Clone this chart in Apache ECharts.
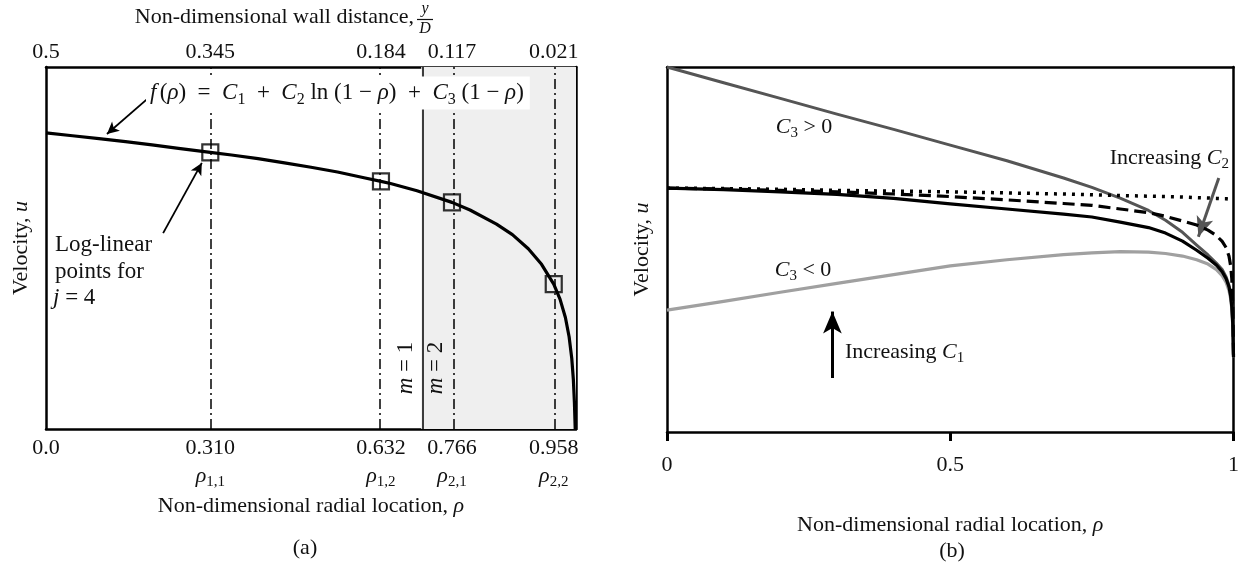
<!DOCTYPE html>
<html>
<head>
<meta charset="utf-8">
<script src="https://cdn.jsdelivr.net/npm/echarts@6/dist/echarts.min.js"></script>
<style>
  html, body { margin: 0; padding: 0; background: #fff; }
  #main { width: 1242px; height: 571px; }
</style>
</head>
<body>
<div id="main"></div>
<script>
var FONT = 'Liberation Serif';

// (a) fitted profile f(rho)
var rhoA = [0, 0.05, 0.1, 0.15, 0.2, 0.25, 0.31, 0.35, 0.4, 0.45, 0.5, 0.55, 0.6, 0.632, 0.65, 0.7, 0.766, 0.8, 0.85, 0.88, 0.91, 0.935, 0.958, 0.97, 0.98, 0.987, 0.992, 0.995, 0.997, 0.998, 0.9985];
var uA = [0.818, 0.810, 0.802, 0.794, 0.785, 0.775, 0.764, 0.757, 0.747, 0.735, 0.723, 0.710, 0.694, 0.684, 0.678, 0.658, 0.626, 0.605, 0.566, 0.537, 0.498, 0.455, 0.400, 0.358, 0.308, 0.255, 0.195, 0.137, 0.074, 0.025, 0.0];
// log-linear points (j = 4)
var rhoPts = [0.31, 0.632, 0.766, 0.958];
var uPts = [0.764, 0.684, 0.626, 0.400];
// tick labels
var bottomVals = [0, 0.31, 0.632, 0.766, 0.958];
var bottomLabels = ['0.0', '0.310', '0.632', '0.766', '0.958'];
var bottomSubs = ['', '1,1', '1,2', '2,1', '2,2'];
var topLabels = ['0.5', '0.345', '0.184', '0.117', '0.021'];
var splitRho = 0.708; // m = 1 | m = 2

// (b) family of curves
var rhoB = [0, 0.1, 0.2, 0.3, 0.4, 0.5, 0.6, 0.7, 0.75, 0.8, 0.85, 0.88, 0.91, 0.935, 0.955, 0.97, 0.98, 0.987, 0.992, 0.995, 0.997, 0.999, 1];
var uC3pos = [1.0, 0.957, 0.914, 0.871, 0.829, 0.786, 0.743, 0.696, 0.670, 0.641, 0.607, 0.580, 0.547, 0.512, 0.485, 0.462, 0.445, 0.425, 0.402, 0.377, 0.347, 0.290, 0.205];
var uBase = [0.668, 0.664, 0.658, 0.651, 0.640, 0.625, 0.611, 0.597, 0.589, 0.575, 0.560, 0.545, 0.523, 0.498, 0.476, 0.457, 0.439, 0.420, 0.398, 0.373, 0.343, 0.288, 0.205];
var uC2mid = [0.668, 0.666, 0.662, 0.658, 0.652, 0.645, 0.636, 0.626, 0.621, 0.611, 0.601, 0.591, 0.578, 0.567, 0.553, 0.538, 0.522, 0.505, 0.482, 0.455, 0.420, 0.330, 0.205];
var uC2high = [0.668, 0.667, 0.665, 0.662, 0.660, 0.658, 0.655, 0.652, 0.650, 0.648, 0.646, 0.645, 0.644, 0.642, 0.641, 0.640, 0.639, 0.639, 0.638, 0.637, 0.637, 0.636, 0.636];
var uC3neg = [0.334, 0.358, 0.383, 0.407, 0.431, 0.455, 0.472, 0.486, 0.491, 0.494, 0.493, 0.489, 0.482, 0.472, 0.460, 0.445, 0.428, 0.410, 0.388, 0.365, 0.338, 0.283, 0.205];
var bTicks = [0, 0.5, 1];
var bLabels = ['0', '0.5', '1'];

function zip(xs, ys) {
  return xs.map(function (x, i) { return [x, ys[i]]; });
}
function lookup(vals, labels, v) {
  for (var i = 0; i < vals.length; i++) {
    if (Math.abs(vals[i] - v) < 1e-6) return labels[i];
  }
  return '';
}

var chart = echarts.init(document.getElementById('main'), null, { renderer: 'canvas' });

var frame = { show: true, onZero: false, lineStyle: { color: '#000', width: 2.5 } };
function mkRich(size, key) {
  var c = key || 'color';
  var r = {
    i: { fontFamily: FONT, fontStyle: 'italic', fontSize: size },
    n: { fontFamily: FONT, fontSize: size },
    s: { fontFamily: FONT, fontSize: Math.round(size * 0.68), padding: [Math.round(size * 0.55), 0, 0, 0] }
  };
  r.i[c] = r.n[c] = r.s[c] = '#111';
  return r;
}
var rich = mkRich(22);
var grich = mkRich(22, 'fill');

var dashDot = { color: '#000', width: 1.5, type: [10, 4, 2, 4] };

var option = {
  animation: false,
  backgroundColor: '#fff',
  grid: [
    { left: 46, top: 67, width: 530, height: 362 },
    { left: 667, top: 67, right: 7, bottom: 139 }
  ],
  xAxis: [
    {
      gridIndex: 0, type: 'value', min: 0, max: 1, position: 'bottom',
      axisLine: frame, axisTick: { show: false }, splitLine: { show: false },
      axisLabel: {
        customValues: bottomVals, margin: 5, lineHeight: 28,
        formatter: function (v) {
          var s = lookup(bottomVals, bottomSubs, v);
          var main = '{n|' + lookup(bottomVals, bottomLabels, v) + '}';
          return s ? main + '\n{i|ρ}{s|' + s + '}' : main + '\n{n| }';
        },
        rich: rich
      },
      name: '{n|Non-dimensional radial location, }{i|ρ}',
      nameLocation: 'middle', nameGap: 66,
      nameTextStyle: { rich: rich }
    },
    {
      gridIndex: 0, type: 'value', min: 0, max: 1, position: 'top',
      axisLine: frame, axisTick: { show: false }, splitLine: { show: false },
      axisLabel: {
        customValues: bottomVals, margin: 4,
        formatter: function (v) { return lookup(bottomVals, topLabels, v); },
        fontFamily: FONT, fontSize: 22, color: '#111'
      }
    },
    {
      gridIndex: 1, type: 'value', min: 0, max: 1, position: 'bottom',
      axisLine: frame,
      axisTick: { show: true, customValues: bTicks, inside: false, length: 9, lineStyle: { width: 3, color: '#000' } },
      splitLine: { show: false },
      axisLabel: {
        customValues: bTicks, margin: 22,
        formatter: function (v) { return lookup(bTicks, bLabels, v); },
        fontFamily: FONT, fontSize: 22, color: '#111'
      },
      name: '{n|Non-dimensional radial location, }{i|ρ}',
      nameLocation: 'middle', nameGap: 82,
      nameTextStyle: { rich: rich }
    },
    {
      gridIndex: 1, type: 'value', min: 0, max: 1, position: 'top',
      axisLine: frame, axisTick: { show: false }, axisLabel: { show: false }, splitLine: { show: false }
    }
  ],
  yAxis: [
    {
      gridIndex: 0, type: 'value', min: 0, max: 1, position: 'left',
      axisLine: frame, axisTick: { show: false }, axisLabel: { show: false }, splitLine: { show: false },
      name: '{n|Velocity, }{i|u}', nameLocation: 'middle', nameGap: 14, nameRotate: 90,
      nameTextStyle: { rich: rich }
    },
    {
      gridIndex: 0, type: 'value', min: 0, max: 1, position: 'right',
      axisLine: frame, axisTick: { show: false }, axisLabel: { show: false }, splitLine: { show: false }
    },
    {
      gridIndex: 1, type: 'value', min: 0, max: 1, position: 'left',
      axisLine: frame, axisTick: { show: false }, axisLabel: { show: false }, splitLine: { show: false },
      name: '{n|Velocity, }{i|u}', nameLocation: 'middle', nameGap: 14, nameRotate: 90,
      nameTextStyle: { rich: rich }
    },
    {
      gridIndex: 1, type: 'value', min: 0, max: 1, position: 'right',
      axisLine: frame, axisTick: { show: false }, axisLabel: { show: false }, splitLine: { show: false }
    }
  ],
  series: [
    {
      // f(rho) curve, shading for m = 2 and the dash-dot point lines
      type: 'line', xAxisIndex: 0, yAxisIndex: 0,
      data: zip(rhoA, uA), showSymbol: false,
      lineStyle: { color: '#000', width: 3.2, join: 'round' }, z: 5, silent: true,
      markArea: {
        silent: true,
        itemStyle: { color: '#efefef' },
        data: [[{ xAxis: splitRho }, { xAxis: 1 }]]
      },
      markLine: {
        silent: true, symbol: 'none', label: { show: false },
        data: rhoPts.map(function (r) { return { xAxis: r, lineStyle: dashDot }; })
          .concat([{ xAxis: splitRho, lineStyle: { color: '#000', width: 1.5, type: 'solid' } }])
      }
    },
    {
      type: 'scatter', xAxisIndex: 0, yAxisIndex: 0,
      data: zip(rhoPts, uPts), symbol: 'rect', symbolSize: 16, z: 6, silent: true,
      itemStyle: { color: 'rgba(0,0,0,0)', borderColor: '#000', borderWidth: 2.2 },
      markLine: {
        silent: true, symbol: ['none', 'arrow'], symbolSize: [9, 12], label: { show: false },
        lineStyle: { color: '#000', width: 1.8, type: 'solid' },
        data: [
          [{ coord: [0.2, 0.923] }, { coord: [0.115, 0.815] }],
          [{ coord: [0.221, 0.541] }, { coord: [0.294, 0.735] }]
        ]
      }
    },
    {
      name: 'C3 > 0', type: 'line', xAxisIndex: 2, yAxisIndex: 2,
      data: zip(rhoB, uC3pos), showSymbol: false, silent: true,
      lineStyle: { color: '#555', width: 3, join: 'round' }, z: 4
    },
    {
      name: 'C3 < 0', type: 'line', xAxisIndex: 2, yAxisIndex: 2,
      data: zip(rhoB, uC3neg), showSymbol: false, silent: true,
      lineStyle: { color: '#a0a0a0', width: 3.2, join: 'round' }, z: 3
    },
    {
      name: 'C2 high', type: 'line', xAxisIndex: 2, yAxisIndex: 2,
      data: zip(rhoB, uC2high), showSymbol: false, silent: true,
      lineStyle: { color: '#000', width: 3.5, type: [3, 6], cap: 'butt' }, z: 5
    },
    {
      name: 'C2 mid', type: 'line', xAxisIndex: 2, yAxisIndex: 2,
      data: zip(rhoB, uC2mid), showSymbol: false, silent: true,
      lineStyle: { color: '#000', width: 3.2, type: [12, 6], cap: 'butt' }, z: 5
    },
    {
      name: 'base', type: 'line', xAxisIndex: 2, yAxisIndex: 2,
      data: zip(rhoB, uBase), showSymbol: false, silent: true,
      lineStyle: { color: '#000', width: 3.2, join: 'round' }, z: 5,
      markLine: {
        silent: true, symbol: ['none', 'arrow'], label: { show: false },
        data: [
          [{ coord: [0.292, 0.148], symbolSize: [14, 20] },
           { coord: [0.292, 0.33], symbolSize: [14, 22], lineStyle: { color: '#000', width: 3, type: 'solid' } }],
          [{ coord: [0.974, 0.696] },
           { coord: [0.938, 0.535], symbolSize: [13, 20], lineStyle: { color: '#555', width: 3, type: 'solid' }, itemStyle: { color: '#555' } }]
        ]
      }
    }
  ],
  graphic: [
    // top axis title with y/D fraction
    { type: 'text', x: 414, y: 17, z: 100, style: { text: 'Non-dimensional wall distance,', align: 'right', verticalAlign: 'middle', font: '22px "' + FONT + '"', fill: '#111' } },
    { type: 'text', x: 425, y: 9, z: 100, style: { text: 'y', align: 'center', verticalAlign: 'middle', font: 'italic 16px "' + FONT + '"', fill: '#111' } },
    { type: 'line', z: 100, shape: { x1: 417, y1: 19.5, x2: 433, y2: 19.5 }, style: { stroke: '#111', lineWidth: 1.2 } },
    { type: 'text', x: 425, y: 29, z: 100, style: { text: 'D', align: 'center', verticalAlign: 'middle', font: 'italic 16px "' + FONT + '"', fill: '#111' } },
    // formula
    {
      type: 'text', x: 146, y: 93, z: 100,
      style: {
        text: '{i|f} {n|(}{i|ρ}{n|)  =  }{i|C}{s|1}{n|  +  }{i|C}{s|2}{n| ln (1 − }{i|ρ}{n|)  +  }{i|C}{s|3}{n| (1 − }{i|ρ}{n|)}',
        rich: mkRich(23, 'fill'),
        verticalAlign: 'middle', backgroundColor: '#fff', padding: [2, 6, 2, 4]
      }
    },
    // annotations in (a)
    { type: 'text', x: 55, y: 258, z: 100, style: { text: 'Log-linear\npoints for', lineHeight: 27, verticalAlign: 'middle', font: '23px "' + FONT + '"', fill: '#111' } },
    {
      type: 'text', x: 53, y: 298, z: 100,
      style: { text: '{i|j}{n| = 4}', verticalAlign: 'middle', rich: mkRich(23, 'fill') }
    },
    {
      type: 'text', x: 406, y: 368, rotation: Math.PI / 2, z: 100,
      style: { text: '{i|m}{n| = 1}', align: 'center', verticalAlign: 'middle', rich: mkRich(23, 'fill') }
    },
    {
      type: 'text', x: 436, y: 368, rotation: Math.PI / 2, z: 100,
      style: { text: '{i|m}{n| = 2}', align: 'center', verticalAlign: 'middle', rich: mkRich(23, 'fill') }
    },
    { type: 'text', x: 305, y: 548, z: 100, style: { text: '(a)', align: 'center', verticalAlign: 'middle', font: '22px "' + FONT + '"', fill: '#111' } },
    // annotations in (b)
    {
      type: 'text', x: 804, y: 127, z: 100,
      style: { text: '{i|C}{s|3}{n| > 0}', align: 'center', verticalAlign: 'middle', rich: grich }
    },
    {
      type: 'text', x: 803, y: 270, z: 100,
      style: { text: '{i|C}{s|3}{n| < 0}', align: 'center', verticalAlign: 'middle', rich: grich }
    },
    {
      type: 'text', x: 1229, y: 158, z: 100,
      style: { text: '{n|Increasing }{i|C}{s|2}', align: 'right', verticalAlign: 'middle', rich: grich }
    },
    {
      type: 'text', x: 845, y: 352, z: 100,
      style: { text: '{n|Increasing }{i|C}{s|1}', align: 'left', verticalAlign: 'middle', rich: grich }
    },
    { type: 'text', x: 952, y: 551, z: 100, style: { text: '(b)', align: 'center', verticalAlign: 'middle', font: '22px "' + FONT + '"', fill: '#111' } }
  ]
};

chart.setOption(option);
</script>
</body>
</html>
